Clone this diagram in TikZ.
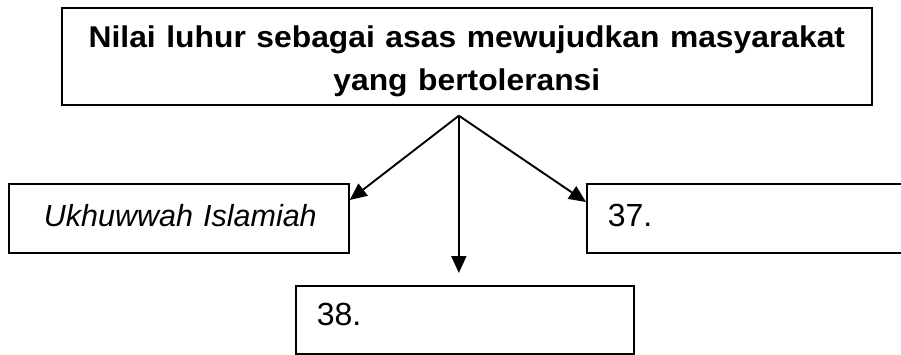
\documentclass[tikz,border=0pt]{standalone}
\usepackage{fontspec}
\setmainfont{Liberation Sans}
\usepackage{graphicx}
\usetikzlibrary{arrows.meta,positioning,calc}

\newcommand{\widetext}[1]{\scalebox{1.06}[1]{#1}}

\tikzset{
  box/.style={draw, line width=1.7pt, rectangle, inner ysep=0pt, align=left,
    font=\fontsize{30.5}{36}\selectfont, text height=43pt, text depth=26pt},
  arrow/.style={line width=1.9pt, -{Triangle[length=17pt,width=15pt]}}
}

\begin{document}
\begin{tikzpicture}[x=1pt,y=1pt]
   \useasboundingbox (0,0) rectangle (901,354);

   \node[draw, line width=1.7pt, anchor=north west, inner xsep=0pt, inner ysep=0pt,
     text width=810pt, align=center, text height=40pt, text depth=57pt,
     font=\fontsize{30}{43}\selectfont\bfseries] (title) at (61,347)
     {\widetext{Nilai luhur sebagai asas mewujudkan masyarakat}\\\widetext{yang bertoleransi}};

   \node[box, anchor=north west, inner xsep=35pt, text width=270pt] (ukhuwwah) at (8,171) {\mbox{\itshape Ukhuwwah Islamiah}};
   \node[box, anchor=north west, inner xsep=21pt, text width=298pt, font=\fontsize{32}{36}\selectfont] (num37) at (586,171) {37.};
   \node[box, anchor=north west, inner xsep=21pt, text width=296pt, text height=40pt, text depth=28pt,
     font=\fontsize{32}{36}\selectfont] (num38) at (295,69) {38.};

   \coordinate (fork) at ([xshift=-8pt,yshift=-10pt]title.south);
   \draw[arrow] (fork) -- ([yshift=-17pt]ukhuwwah.north east);
   \draw[arrow] (fork) -- ([yshift=-19pt]num37.north west);
   \draw[arrow, shorten >=12pt] (fork) -- (fork |- num38.north);

\end{tikzpicture}
\end{document}
